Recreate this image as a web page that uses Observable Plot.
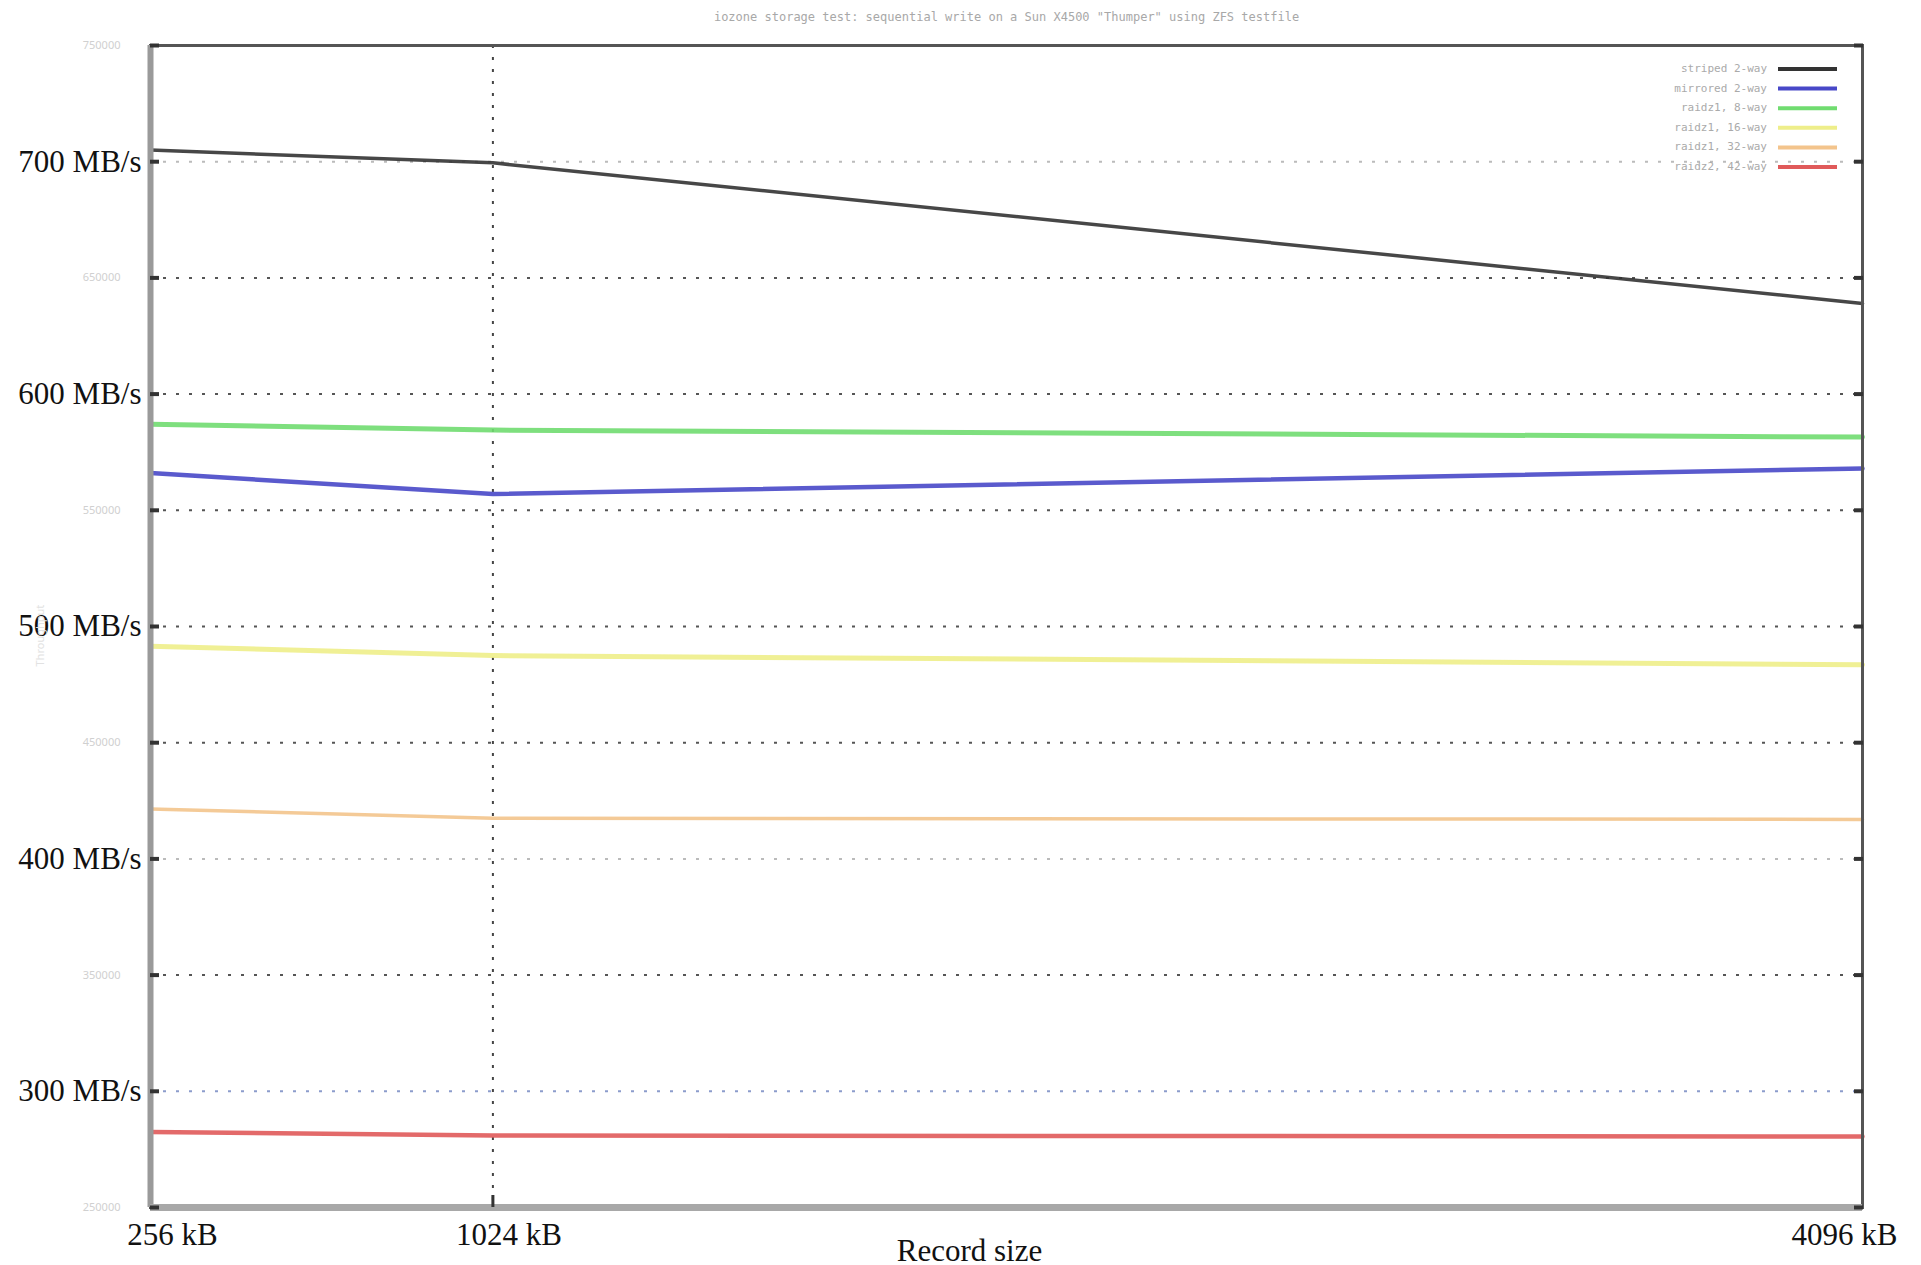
<!DOCTYPE html>
<html>
<head>
<meta charset="utf-8">
<script src="https://cdn.jsdelivr.net/npm/d3@7"></script>
<script src="https://cdn.jsdelivr.net/npm/@observablehq/plot@0.6"></script>
<style>
  html, body { margin: 0; padding: 0; background: #fff; }
  #chart { position: relative; width: 1921px; height: 1265px; }
</style>
</head>
<body>
<div id="chart"></div>
<script>
// ---- data ----
const recordSizes = [256, 1024, 4096];           // kB
const seriesNames = ["striped 2-way", "mirrored 2-way", "raidz1, 8-way", "raidz1, 16-way", "raidz1, 32-way", "raidz2, 42-way"];
const seriesColors = ["#333333", "#4848c8", "#70dc70", "#eeee8a", "#f3c48c", "#e05a5a"];
const seriesWidths = [3.5, 4.5, 5, 5, 3.5, 4.5];
const striped2 = [705, 699.5, 639];
const mirrored2 = [566, 557, 568];
const raidz1_8 = [587, 584.5, 581.5];
const raidz1_16 = [491.5, 487.5, 483.5];
const raidz1_32 = [421.5, 417.5, 417];
const raidz2_42 = [282.5, 281, 280.5];
const seriesValues = [striped2, mirrored2, raidz1_8, raidz1_16, raidz1_32, raidz2_42];

const yMajorTicks = [300, 400, 500, 600, 700];
const yFaintTicks = [250, 350, 450, 550, 650, 750];
const yGrid = [300, 350, 400, 450, 500, 550, 600, 650, 700];
const yAllTicks = [250, 300, 350, 400, 450, 500, 550, 600, 650, 700, 750];
const xTickLabels = ["256 kB", "1024 kB", "4096 kB"];
const titleText = "iozone storage test: sequential write on a Sun X4500 \"Thumper\" using ZFS testfile";
const xLabel = "Record size";
const yFaintLabel = "Throughput";

// ---- table ----
const rows = [];
seriesNames.forEach((name, i) => {
  recordSizes.forEach((r, j) => rows.push({series: name, size: r, value: seriesValues[i][j]}));
});

const gridColor = v => (v === 700 || v === 400) ? "#bbbbbb" : (v === 300 ? "#8c9ccc" : "#555555");

const serif = "'Liberation Serif', 'DejaVu Serif', serif";
const xDx = [22, 16, -18];

const chart = Plot.plot({
  width: 1921,
  height: 1265,
  marginTop: 45,
  marginBottom: 58,
  marginLeft: 150,
  marginRight: 59,
  style: {background: "#fff", overflow: "visible"},
  x: {type: "linear", domain: [256, 4096], label: null},
  y: {domain: [250, 750], label: null},
  color: {domain: seriesNames, range: seriesColors},
  marks: [
    // grid
    Plot.ruleY(yGrid, {y: d => d, stroke: d => gridColor(d), strokeDasharray: "3,10", strokeWidth: 2}),
    Plot.ruleX([1024], {stroke: "#444", strokeDasharray: "3,9", strokeWidth: 2}),
    // series
    ...seriesNames.map((name, i) =>
      Plot.line(rows.filter(r => r.series === name), {
        x: "size", y: "value", stroke: seriesColors[i], strokeWidth: seriesWidths[i], strokeOpacity: 0.9
      })
    ),
    // frame
    Plot.frame({stroke: "#555", strokeWidth: 3}),
    Plot.ruleX([256], {stroke: "#9a9a9a", strokeWidth: 6}),
    Plot.ruleY([250], {stroke: "#a8a8a8", strokeWidth: 7}),
    // inward tick marks
    Plot.axisY({ticks: yAllTicks, anchor: "left", tickSize: -9, tickFormat: () => "", stroke: "#333", strokeWidth: 4, label: null}),
    Plot.axisY({ticks: yAllTicks, anchor: "right", tickSize: -9, tickFormat: () => "", stroke: "#333", strokeWidth: 4, label: null}),
    Plot.axisX({ticks: [1024], anchor: "bottom", tickSize: -12, tickFormat: () => "", stroke: "#333", strokeWidth: 3, label: null}),
    // faint original labels
    Plot.axisY({ticks: yFaintTicks, anchor: "left", tickSize: 0, tickPadding: 30, fontSize: 11,
      fill: "#d0d0d0", tickFormat: d => d3.format("d")(d * 1000), label: null}),
    // bold labels
    Plot.axisY({ticks: yMajorTicks, anchor: "left", tickSize: 0, tickPadding: 9, fontSize: 31,
      fontFamily: serif, fill: "#111", tickFormat: d => d + " MB/s", label: null}),
    ...recordSizes.map((r, i) =>
      Plot.axisX({ticks: [r], anchor: "bottom", tickSize: 0, tickPadding: 15, fontSize: 31, dx: xDx[i],
        fontFamily: serif, fill: "#111", tickFormat: () => xTickLabels[i], label: null})
    ),
    Plot.text([xLabel], {frameAnchor: "bottom", dy: 44, dx: -37, fontSize: 31, fontFamily: serif,
      fill: "#111", lineAnchor: "middle", text: d => d}),
    Plot.text([titleText], {frameAnchor: "top", dy: -28, fontSize: 12, fontFamily: "'DejaVu Sans Mono', monospace",
      fill: "#a8a8a8", lineAnchor: "middle", text: d => d}),
    Plot.text([yFaintLabel], {frameAnchor: "left", dx: -110, dy: 40, rotate: -90, fontSize: 11,
      fill: "#e2e2e2", lineAnchor: "middle", text: d => d})
  ]
});

document.getElementById("chart").appendChild(chart);

// ---- legend (inside plot, top right) ----
const svg = d3.select(chart);
const legendRight = 1921 - 59;
const legend = svg.append("g").attr("class", "legend");
seriesNames.forEach((name, i) => {
  const yy = 45 + 24 + i * 19.6;
  legend.append("text")
    .attr("x", legendRight - 95).attr("y", yy)
    .attr("text-anchor", "end").attr("dominant-baseline", "middle")
    .attr("font-family", "'DejaVu Sans Mono', monospace").attr("font-size", 11)
    .attr("fill", "#aaaaaa").text(name);
  legend.append("line")
    .attr("x1", legendRight - 84).attr("x2", legendRight - 25)
    .attr("y1", yy).attr("y2", yy)
    .attr("stroke", seriesColors[i]).attr("stroke-width", 4);
});
</script>
</body>
</html>
